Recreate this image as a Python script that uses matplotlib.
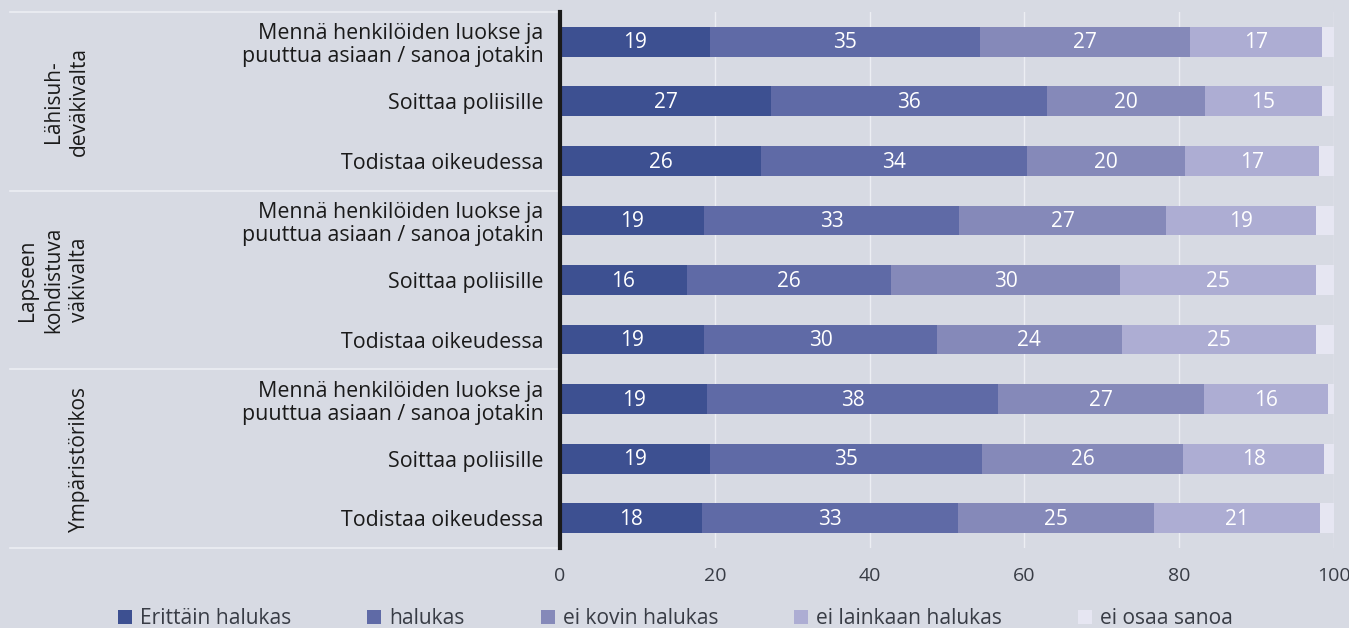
import matplotlib
matplotlib.use("Agg")
import matplotlib.pyplot as plt
from matplotlib.patches import Patch
import numpy as np

# kategoriat (ylhäältä alas)
categories = [
    "Mennä henkilöiden luokse ja\npuuttua asiaan / sanoa jotakin",
    "Soittaa poliisille",
    "Todistaa oikeudessa",
] * 3
groups = ["Lähisuh-\ndeväkivalta", "Lapseen\nkohdistuva\nväkivalta", "Ympäristörikos"]

series = ["Erittäin halukas", "halukas", "ei kovin halukas",
          "ei lainkaan halukas", "ei osaa sanoa"]

erittain = [19.4, 27.3, 26.0, 18.6, 16.4, 18.6, 19.0, 19.4, 18.3]
halukas = [34.8, 35.6, 34.3, 33.0, 26.4, 30.1, 37.6, 35.1, 33.1]
ei_kovin = [27.2, 20.4, 20.4, 26.7, 29.6, 23.9, 26.6, 26.0, 25.4]
ei_lainkaan = [17.0, 15.1, 17.3, 19.4, 25.3, 25.1, 16.0, 18.2, 21.4]
ei_osaa = [1.6, 1.6, 2.0, 2.3, 2.3, 2.3, 0.8, 1.3, 1.8]

colors = ["#3d5091", "#5f6aa6", "#8589b9", "#adadd3", "#e6e6f2"]
bg = "#d7dae3"
text_col = "#1a1a1a"
grey_text = "#383c45"

plt.rcParams['font.family'] = ['Open Sans', 'DejaVu Sans']

fig = plt.figure(figsize=(13.49, 6.28), dpi=100, facecolor=bg)
ax = fig.add_axes([560 / 1349, 80 / 628, 774 / 1349, 536 / 628])
ax.set_facecolor(bg)

data = [erittain, halukas, ei_kovin, ei_lainkaan, ei_osaa]
y = np.arange(len(categories))
left = np.zeros(len(categories))
for i, (vals, col) in enumerate(zip(data, colors)):
    vals = np.array(vals)
    ax.barh(y, vals, left=left, height=0.5, color=col, zorder=3)
    if i < 4:
        for yy, l, v in zip(y, left, vals):
            ax.text(l + v / 2, yy + 0.02, f"{round(v)}", ha='center', va='center',
                    color='white', fontsize=15, zorder=4)
    left += vals

ax.set_xlim(0, 100)
ax.set_ylim(8.5, -0.5)
ax.set_xticks(np.arange(0, 101, 20))
ax.set_xticklabels([str(t) for t in range(0, 101, 20)])
ax.tick_params(axis='x', length=0, labelsize=14, colors=grey_text, pad=14)
ax.set_yticks(y)
ax.set_yticklabels(categories, fontsize=15.4, color=text_col, linespacing=1.12)
ax.tick_params(axis='y', length=0, pad=12)
ax.xaxis.grid(True, color='#eceef3', linewidth=1, zorder=0)

for s in ['top', 'right', 'bottom']:
    ax.spines[s].set_visible(False)
ax.spines['left'].set_color('#1a1a1a')
ax.spines['left'].set_linewidth(3)
ax.spines['left'].set_zorder(5)

# ryhmien erotinviivat
for yy in [-0.5, 2.5, 5.5, 8.5]:
    ax.plot([-550 / 7.74, 0], [yy, yy], color='#eceef3', linewidth=1.2,
            clip_on=False, zorder=1)

# ryhmien otsikot
for gi, g in enumerate(groups):
    ax.text(-470 / 7.74, gi * 3 + 1, g, rotation=90, ha='right', va='center',
            multialignment='center', fontsize=15, color=text_col,
            linespacing=1.3)

handles = [Patch(facecolor=c, edgecolor='none') for c in colors]
fig.legend(handles, series, loc='center left', ncol=5,
           bbox_to_anchor=(118 / 1349, 9 / 628), frameon=False,
           fontsize=15.1, handlelength=0.67, handleheight=0.67,
           handletextpad=0.4, columnspacing=3.6, borderpad=0,
           borderaxespad=0, labelcolor=grey_text)

fig.savefig("out.png", dpi=100, facecolor=bg)
